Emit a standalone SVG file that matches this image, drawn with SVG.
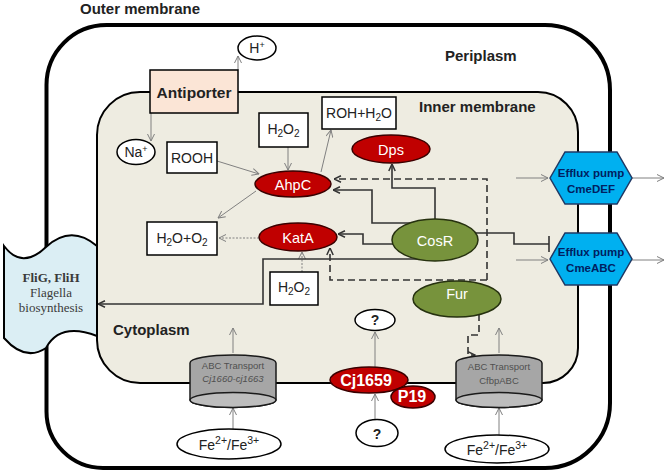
<svg xmlns="http://www.w3.org/2000/svg" width="666" height="473" viewBox="0 0 666 473">
<defs>
<style>
.lbl{font-family:"Liberation Sans",Arial,sans-serif;font-weight:bold;font-size:15px;fill:#222}
.t{font-family:"Liberation Sans",Arial,sans-serif;font-size:14px;fill:#222;text-anchor:middle}
.tw{font-family:"Liberation Sans",Arial,sans-serif;font-size:14.5px;fill:#fff;text-anchor:middle}
.twb{font-family:"Liberation Sans",Arial,sans-serif;font-size:16px;font-weight:bold;fill:#fff;text-anchor:middle}
.box{fill:#fff;stroke:#000;stroke-width:1.5}
.red{fill:#c00000;stroke:#3a0000;stroke-width:1.5}
.grn{fill:#77933c;stroke:#26310f;stroke-width:1.5}
.wel{fill:#fff;stroke:#000;stroke-width:1.5}
.hex{fill:#00b0f0;stroke:#1f3864;stroke-width:1.5}
.ht{font-family:"Liberation Sans",Arial,sans-serif;font-size:11.5px;font-weight:bold;fill:#002060;text-anchor:middle}
.cyl{fill:#a6a6a6;stroke:#1a1a1a;stroke-width:1.5}
.cylb{fill:#bdbdbd;stroke:#1a1a1a;stroke-width:1.5}
.ct{font-family:"Liberation Sans",Arial,sans-serif;font-size:9.5px;fill:#505050;text-anchor:middle}
.ft{font-family:"Liberation Serif","Times New Roman",serif;font-size:13px;fill:#3a3a3a;text-anchor:middle}
.g{fill:none;stroke:#808080;stroke-width:1;marker-end:url(#ag)}
.gd{fill:none;stroke:#808080;stroke-width:1;stroke-dasharray:2 1.5;marker-end:url(#ag)}
.k{fill:none;stroke:#333;stroke-width:1.6;marker-end:url(#ak)}
.kd{fill:none;stroke:#333;stroke-width:1.6;stroke-dasharray:7 4;marker-end:url(#ak)}
</style>
<marker id="ag" viewBox="0 0 8 8" refX="7.5" refY="4" markerWidth="8" markerHeight="8" markerUnits="userSpaceOnUse" orient="auto"><path d="M0.5,0.5 L7.5,4 L0.5,7.5" fill="none" stroke="#7f7f7f" stroke-width="1"/></marker>
<marker id="ak" viewBox="0 0 8 8" refX="7.5" refY="4" markerWidth="8" markerHeight="8" markerUnits="userSpaceOnUse" orient="auto"><path d="M0.5,0.8 L7.5,4 L0.5,7.2" fill="none" stroke="#333" stroke-width="1.5"/></marker>
<marker id="tee" viewBox="0 0 4 16" refX="2" refY="8" markerWidth="4" markerHeight="16" markerUnits="userSpaceOnUse" orient="auto"><path d="M2,0 V16" stroke="#333" stroke-width="1.6"/></marker>
</defs>

<g id="membranes">
<path d="M46.5,85 A60,60 0 0 1 106.5,25 H545 A65,65 0 0 1 610,90 V403 A65,65 0 0 1 545,468 H103 A56.5,56.5 0 0 1 46.5,411.5 Z" fill="#fff" stroke="#000" stroke-width="4"/>
<path d="M97,135 A43,43 0 0 1 140,92 H538 A40,40 0 0 1 578,132 V348 A35,35 0 0 1 543,383 H140 A43,43 0 0 1 97,340 Z" fill="#eeece1" stroke="#000" stroke-width="2"/>
<text class="lbl" x="80" y="13.5">Outer membrane</text>
<text class="lbl" x="445" y="61">Periplasm</text>
<text class="lbl" x="419" y="111.5">Inner membrane</text>
<text class="lbl" x="113" y="334.5">Cytoplasm</text>
</g>

<g id="connectors">
<path class="g" d="M238,70 V56"/>
<path class="g" d="M151,113 V141"/>
<path class="g" d="M217,161 L259,174"/>
<path class="g" d="M288,147 V170"/>
<path class="g" d="M321,172 L331,130"/>
<path class="g" d="M256,191 L218,218"/>
<path class="gd" d="M259,238 H219"/>
<path class="gd" d="M302,272 V252"/>
<path class="g" d="M233,353 V328"/>
<path class="g" d="M233,429 V408"/>
<path class="g" d="M499,353 V328"/>
<path class="g" d="M499,435 V408"/>
<path class="g" d="M375,367 V332"/>
<path class="g" d="M375,420 V394"/>
<path class="g" d="M516,178 H548"/>
<path class="g" d="M632,178 H664"/>
<path class="g" d="M516,260 H548"/>
<path class="g" d="M632,260 H664"/>
<path class="k" d="M435,219 V188 H392 V164"/>
<path class="k" d="M410,223 H372 V190 H333"/>
<path class="k" d="M393,244 H363 V234 H338"/>
<path class="k" d="M417,259 H263 V304 H98"/>
<path d="M476,233 H514 V244 H549" fill="none" stroke="#333" stroke-width="1.6" marker-end="url(#tee)"/>
<path class="kd" d="M487,280 V179 H334"/>
<path class="kd" d="M487,280 H330 V248"/>
<path class="kd" d="M479,314 V335 H468 V355 H475"/>
</g>

<g id="flagella">
<path d="M4,246 Q22,270 46,247 Q71,224 97,246 V336 Q60,322 46,348 Q25,362 4,338 Z" fill="#dbeef4" stroke="#000" stroke-width="2"/>
<text class="ft" x="51" y="282" font-weight="bold">FliG, FliH</text>
<text class="ft" x="51" y="297">Flagella</text>
<text class="ft" x="51" y="312">biosynthesis</text>
</g>

<g id="antiporter">
<rect x="150" y="70" width="88" height="43" fill="#fbe5d6" stroke="#000" stroke-width="1.5"/>
<text x="194" y="98" text-anchor="middle" font-family="Liberation Sans, Arial, sans-serif" font-weight="bold" font-size="15.5" fill="#222">Antiporter</text>
</g>

<g id="hplus">
<ellipse class="wel" cx="257" cy="48" rx="19" ry="12"/>
<text class="t" x="257" y="53">H<tspan font-size="9" dy="-5">+</tspan></text>
</g>

<g id="naplus">
<ellipse class="wel" cx="136" cy="152" rx="19" ry="12.5"/>
<text class="t" x="136" y="157">Na<tspan font-size="9" dy="-5">+</tspan></text>
</g>

<g id="rooh">
<rect class="box" x="167" y="142" width="50" height="31"/>
<text class="t" x="192" y="162.5">ROOH</text>
</g>

<g id="h2o2-top">
<rect class="box" x="259" y="113" width="49" height="34"/>
<text class="t" x="283.5" y="134">H<tspan font-size="10" dy="3">2</tspan><tspan dy="-3">O</tspan><tspan font-size="10" dy="3">2</tspan></text>
</g>

<g id="roh-h2o">
<rect class="box" x="322" y="97" width="74" height="32"/>
<text class="t" x="359" y="118">ROH+H<tspan font-size="10" dy="3">2</tspan><tspan dy="-3">O</tspan></text>
</g>

<g id="h2o-o2">
<rect class="box" x="147" y="222" width="70" height="33"/>
<text class="t" x="182" y="243">H<tspan font-size="10" dy="3">2</tspan><tspan dy="-3">O+O</tspan><tspan font-size="10" dy="3">2</tspan></text>
</g>

<g id="h2o2-bottom">
<rect class="box" x="270" y="272" width="48" height="33"/>
<text class="t" x="294" y="292">H<tspan font-size="10" dy="3">2</tspan><tspan dy="-3">O</tspan><tspan font-size="10" dy="3">2</tspan></text>
</g>

<g id="ahpc">
<ellipse class="red" cx="293" cy="184" rx="38" ry="13"/>
<text class="tw" x="293" y="189.5">AhpC</text>
</g>

<g id="dps">
<ellipse class="red" cx="391" cy="149" rx="39" ry="14"/>
<text class="tw" x="391" y="154.5">Dps</text>
</g>

<g id="kata">
<ellipse class="red" cx="298" cy="237" rx="39" ry="14"/>
<text class="tw" x="298" y="242.5">KatA</text>
</g>

<g id="cosr">
<ellipse class="grn" cx="435" cy="240" rx="43" ry="21"/>
<text class="tw" x="435" y="245.5" fill="#f2f2f2">CosR</text>
</g>

<g id="fur">
<ellipse class="grn" cx="457" cy="299" rx="44" ry="18"/>
<text class="tw" x="457" y="299">Fur</text>
</g>

<g id="cmedef">
<polygon class="hex" points="550,178 565,152 617,152 632,178 617,204 565,204"/>
<text class="ht" x="591" y="176.5">Efflux pump</text>
<text class="ht" x="591" y="193">CmeDEF</text>
</g>

<g id="cmeabc">
<polygon class="hex" points="550,259 565,233 617,233 632,259 617,285 565,285"/>
<text class="ht" x="591" y="256">Efflux pump</text>
<text class="ht" x="591" y="272">CmeABC</text>
</g>

<g id="abc1">
<path class="cyl" d="M190,363 A43,8 0 0 1 276,363 V400 A43,7.5 0 0 1 190,400 Z"/>
<ellipse class="cylb" cx="233" cy="400" rx="43" ry="7.5"/>
<text class="ct" x="233" y="369">ABC Transport</text>
<text class="ct" x="233" y="382" font-style="italic">Cj1660-cj1663</text>
</g>

<g id="abc2">
<path class="cyl" d="M456,363 A43,8 0 0 1 542,363 V400 A43,7.5 0 0 1 456,400 Z"/>
<ellipse class="cylb" cx="499" cy="400" rx="43" ry="7.5"/>
<text class="ct" x="499" y="370">ABC Transport</text>
<text class="ct" x="499" y="384">CfbpABC</text>
</g>

<g id="q-top">
<ellipse class="wel" cx="375" cy="320" rx="20" ry="10.5"/>
<text class="t" x="375" y="325" font-weight="bold">?</text>
</g>

<g id="q-bottom">
<ellipse class="wel" cx="377" cy="433" rx="21" ry="13.5"/>
<text class="t" x="377" y="438.5" font-weight="bold">?</text>
</g>

<g id="cj1659">
<ellipse class="red" cx="369" cy="380" rx="39" ry="13"/>
<text class="twb" x="366" y="386">Cj1659</text>
</g>

<g id="p19">
<ellipse class="red" cx="413" cy="397" rx="22" ry="11"/>
<text class="twb" x="412" y="402" font-size="14">P19</text>
</g>

<g id="fe1">
<ellipse class="wel" cx="229" cy="444" rx="52" ry="15"/>
<text class="t" x="229" y="450" font-size="16">Fe<tspan font-size="10.5" dy="-6">2+</tspan><tspan dy="6">/Fe</tspan><tspan font-size="10.5" dy="-6">3+</tspan></text>
</g>

<g id="fe2">
<ellipse class="wel" cx="497" cy="449" rx="52" ry="14"/>
<text class="t" x="497" y="455" font-size="16">Fe<tspan font-size="10.5" dy="-6">2+</tspan><tspan dy="6">/Fe</tspan><tspan font-size="10.5" dy="-6">3+</tspan></text>
</g>
</svg>
